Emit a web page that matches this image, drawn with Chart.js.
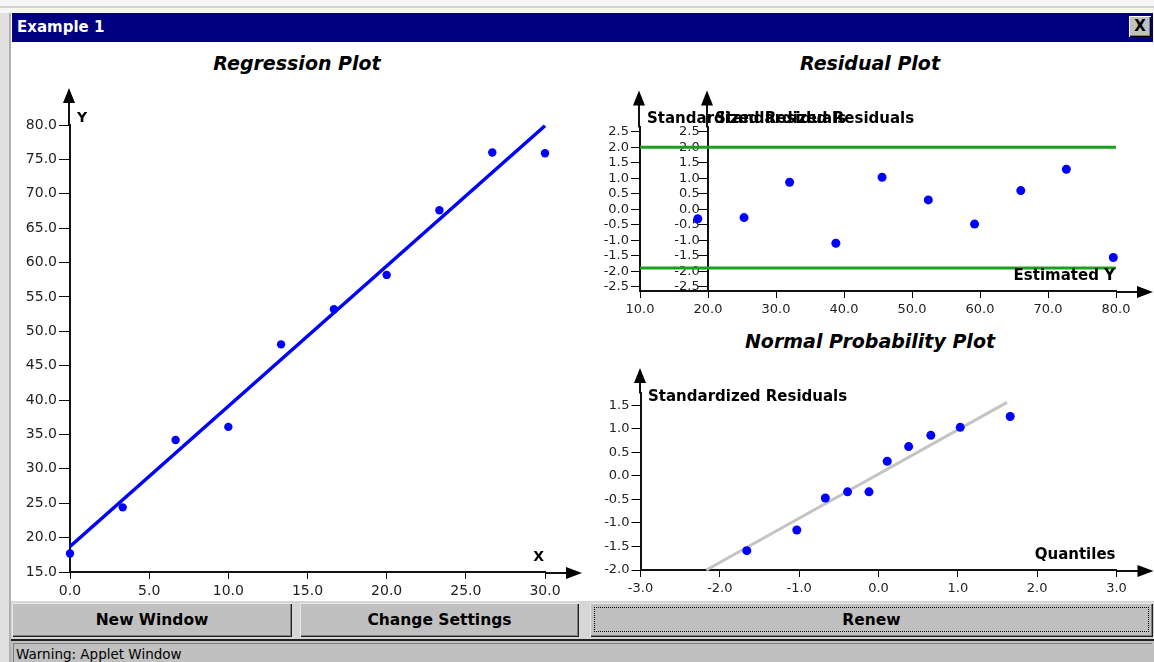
<!DOCTYPE html>
<html>
<head>
<meta charset="utf-8">
<title>Example 1</title>
<script src="https://cdn.jsdelivr.net/npm/chart.js@4/dist/chart.umd.min.js"></script>
<style>
  body { margin: 0; width: 1154px; height: 662px; overflow: hidden; position: relative; background: #fff; font-family: "DejaVu Sans", sans-serif; }
  .abs { position: absolute; }
  #frameTop { left: 0; top: 0; width: 1154px; height: 13px; background: #f6f6f6; }
  #frameTop::after { content: ""; position: absolute; left: 0; top: 6px; width: 1154px; height: 2px; background: #d4d4d4; }
  #leftEdge { left: 0; top: 13px; width: 9px; height: 649px; background: #e0e0e0; border-right: 2px solid #b0b0b0; }
  #titleBar { left: 12px; top: 13px; width: 1141px; height: 29px; background: #000080; color: #fff; font-weight: bold; font-size: 15px; line-height: 29px; }
  #titleBar span { position: absolute; left: 5px; top: 0; }
  #closeBtn { left: 1117px; top: 3px; width: 22px; height: 21px; background: #c0c0c0; color: #000; font-size: 15px; line-height: 20px; text-align: center;
    box-shadow: inset 1px 1px #fff, inset -1px -1px #000, inset -2px -2px #808080; }
  .plotTitle { width: 400px; height: 23px; line-height: 23px; text-align: center; font-size: 19px; font-weight: bold; font-style: italic; color: #000; }
  canvas { position: absolute; }
  #btnRow { left: 11px; top: 601px; width: 1143px; height: 38px; background: #d6d6d6; }
  .btn { top: 603px; height: 34px; background: #c0c0c0; font-weight: bold; font-size: 15.5px; line-height: 34px; text-align: center; color: #000;
    box-shadow: inset 1px 1px #e8e8e8, inset -1px -1px #202020, inset -2px -2px #808080; }
  #renewFocus { left: 4px; top: 4px; right: 4px; bottom: 5px; border: 1px dotted #000; }
  #status { left: 11px; top: 639px; width: 1143px; height: 23px; background: #c0c0c0; border-top: 2px solid #202020; }
  #statusField { left: 2px; top: 2px; width: 1138px; height: 21px; border-top: 1px solid #808080; border-left: 1px solid #808080; font-size: 13.5px; line-height: 20px; color: #000; }
  #statusField span { position: absolute; left: 2px; top: 0; }
</style>
</head>
<body>
<div id="frameTop" class="abs"></div>
<div id="leftEdge" class="abs"></div>
<div id="titleBar" class="abs"><span>Example 1</span><div id="closeBtn" class="abs"><b>X</b></div></div>

<div class="plotTitle abs" style="left:97px; top:52px;">Regression Plot</div>
<div class="plotTitle abs" style="left:670px; top:52px;">Residual Plot</div>
<div class="plotTitle abs" style="left:670px; top:330px;">Normal Probability Plot</div>

<canvas id="regression" width="576" height="556" style="left:9px; top:44px;"></canvas>
<canvas id="residual" width="564" height="280" style="left:590px; top:44px;"></canvas>
<canvas id="normal" width="564" height="278" style="left:590px; top:322px;"></canvas>

<div id="btnRow" class="abs"></div>
<div class="btn abs" style="left:12px; width:280px;">New Window</div>
<div class="btn abs" style="left:300px; width:279px;">Change Settings</div>
<div class="btn abs" style="left:590px; width:563px;">Renew<div id="renewFocus" class="abs"></div></div>
<div id="status" class="abs"><div id="statusField" class="abs"><span>Warning: Applet Window</span></div></div>

<script>
// regression data
const regX = [0, 3.33, 6.67, 10, 13.33, 16.67, 20, 23.33, 26.67, 30];
const regY = [17.7, 24.4, 34.2, 36.1, 48.1, 53.2, 58.2, 67.6, 76.0, 75.9];
const fitX = [0, 30];
const fitY = [18.7, 79.9];

// residuals against the fitted values
const estY = [18.5, 25.3, 32.0, 38.8, 45.6, 52.4, 59.2, 66.0, 72.7, 79.6];
const stdRes = [-0.31, -0.27, 0.87, -1.10, 1.03, 0.30, -0.48, 0.60, 1.29, -1.56];
const limitX = [10, 80];
const limitY = [2.0, -1.9];

// normal probability plot
const quantiles = [-1.66, -1.03, -0.67, -0.39, -0.12, 0.11, 0.38, 0.66, 1.03, 1.66];
const sortedRes = [-1.59, -1.15, -0.47, -0.34, -0.34, 0.31, 0.62, 0.86, 1.03, 1.26];
const refX = [-2.17, 1.62];
const refY = [-2.0, 1.56];

// tick labels
const regXTicks = [0, 5, 10, 15, 20, 25, 30];
const regYTicks = [15, 20, 25, 30, 35, 40, 45, 50, 55, 60, 65, 70, 75, 80];
const resXTicks = [10, 20, 30, 40, 50, 60, 70, 80];
const resYTicks = [-2.5, -2, -1.5, -1, -0.5, 0, 0.5, 1, 1.5, 2, 2.5];
const normXTicks = [-3, -2, -1, 0, 1, 2, 3];
const normYTicks = [-2, -1.5, -1, -0.5, 0, 0.5, 1, 1.5];

Chart.defaults.font.family = '"DejaVu Sans", sans-serif';

function pts(xs, ys) {
  return xs.map((x, i) => ({x: x, y: ys[i]}));
}

function axis(ticks, o) {
  return {
    type: 'linear',
    min: o.min,
    max: o.max,
    position: o.position,
    afterBuildTicks: s => { s.ticks = ticks.map(v => ({value: v})); },
    afterFit: s => {
      if (o.size == null) return;
      if (s.isHorizontal()) s.height = o.size; else s.width = o.size;
    },
    grid: {drawOnChartArea: false, drawTicks: true, tickLength: o.tick, color: '#000', lineWidth: 1},
    border: {display: true, color: '#111', width: 2},
    ticks: {
      autoSkip: false, maxRotation: 0, padding: o.pad, color: '#222',
      font: {size: o.font},
      // axes placed at a data value get no label gap from Chart.js, so pad the text
      callback: v => Number(v).toFixed(1) + (o.gap || '')
    }
  };
}

// axis arrows and axis names
const axisDecor = {
  id: 'axisDecor',
  afterDraw(chart, args, o) {
    const ctx = chart.ctx;
    const a = chart.chartArea;
    const xs = chart.scales.x;
    ctx.save();
    ctx.fillStyle = '#000';
    ctx.strokeStyle = '#111';
    ctx.lineWidth = 2;
    ctx.font = 'bold ' + o.nameSize + 'px "DejaVu Sans"';
    o.yAxisAt.forEach(v => {
      const px = Math.round(xs.getPixelForValue(v)) - 1;
      const tip = a.top - o.yArrow;
      ctx.beginPath();
      ctx.moveTo(px, a.top);
      ctx.lineTo(px, tip + 12);
      ctx.stroke();
      ctx.beginPath();
      ctx.moveTo(px, tip);
      ctx.lineTo(px - 6, tip + 15);
      ctx.lineTo(px + 6, tip + 15);
      ctx.closePath();
      ctx.fill();
      ctx.textAlign = 'left';
      ctx.textBaseline = 'middle';
      ctx.fillText(o.yName, px + o.nameDx, a.top + o.yNameDy);
    });
    const ay = Math.round(a.bottom) + 1;
    const tipX = a.right + 37;
    ctx.beginPath();
    ctx.moveTo(a.right, ay);
    ctx.lineTo(tipX - 12, ay);
    ctx.stroke();
    ctx.beginPath();
    ctx.moveTo(tipX, ay);
    ctx.lineTo(tipX - 16, ay - 6);
    ctx.lineTo(tipX - 16, ay + 6);
    ctx.closePath();
    ctx.fill();
    ctx.textAlign = 'right';
    ctx.textBaseline = 'middle';
    ctx.fillText(o.xName, a.right - 1, ay - 16);
    ctx.restore();
  }
};

const common = {
  responsive: false,
  animation: false,
  devicePixelRatio: 1,
  events: []
};

new Chart(document.getElementById('regression'), {
  type: 'scatter',
  data: {
    datasets: [
      {data: pts(regX, regY), backgroundColor: '#0000ff', borderWidth: 0, pointRadius: 4.2, clip: false},
      {data: pts(fitX, fitY), showLine: true, borderColor: '#0000ff', borderWidth: 3.5, pointRadius: 0, clip: false}
    ]
  },
  options: Object.assign({}, common, {
    layout: {padding: {left: 0, right: 40, top: 81, bottom: 0}},
    plugins: {
      legend: {display: false},
      tooltip: {enabled: false},
      axisDecor: {yAxisAt: [0], yArrow: 37, yName: 'Y', xName: 'X', nameSize: 14, nameDx: 8, yNameDy: -7}
    },
    scales: {
      x: axis(regXTicks, {min: 0, max: 30, size: 28, tick: 7, pad: 4, font: 14}),
      y: axis(regYTicks, {min: 15, max: 80, size: 61, tick: 11, pad: 2, font: 14})
    }
  }),
  plugins: [axisDecor]
});

new Chart(document.getElementById('residual'), {
  type: 'scatter',
  data: {
    datasets: [
      {data: pts(estY, stdRes), backgroundColor: '#0000ff', borderWidth: 0, pointRadius: 4.5, clip: false},
      {data: pts(limitX, [limitY[0], limitY[0]]), showLine: true, borderColor: '#1e9e1e', borderWidth: 3, pointRadius: 0, clip: false},
      {data: pts(limitX, [limitY[1], limitY[1]]), showLine: true, borderColor: '#1e9e1e', borderWidth: 3, pointRadius: 0, clip: false}
    ]
  },
  options: Object.assign({}, common, {
    layout: {padding: {left: 0, right: 38, top: 83.4, bottom: 0}},
    plugins: {
      legend: {display: false},
      tooltip: {enabled: false},
      axisDecor: {yAxisAt: [10, 20], yArrow: 37, yName: 'Standardized Residuals', xName: 'Estimated Y', nameSize: 15, nameDx: 8, yNameDy: -8.4}
    },
    scales: {
      x: axis(resXTicks, {min: 10, max: 80, size: 33, tick: 7, pad: 4, font: 13}),
      y: axis(resYTicks, {min: -2.64, max: 2.64, size: 50, tick: 9, pad: 2, font: 13}),
      y2: Object.assign(axis(resYTicks, {min: -2.64, max: 2.64, position: {x: 20}, tick: 9, pad: 2, font: 13, gap: '  '}), {axis: 'y'})
    }
  }),
  plugins: [axisDecor]
});

new Chart(document.getElementById('normal'), {
  type: 'scatter',
  data: {
    datasets: [
      {data: pts(quantiles, sortedRes), backgroundColor: '#0000ff', borderWidth: 0, pointRadius: 4.5, clip: false},
      {data: pts(refX, refY), showLine: true, borderColor: '#c4c4c4', borderWidth: 3, pointRadius: 0, clip: false}
    ]
  },
  options: Object.assign({}, common, {
    layout: {padding: {left: 0, right: 37.5, top: 71.4, bottom: 0}},
    plugins: {
      legend: {display: false},
      tooltip: {enabled: false},
      axisDecor: {yAxisAt: [-3], yArrow: 25.4, yName: 'Standardized Residuals', xName: 'Quantiles', nameSize: 15, nameDx: 8, yNameDy: 3.6}
    },
    scales: {
      x: axis(normXTicks, {min: -3, max: 3, size: 30, tick: 7, pad: 4, font: 13}),
      y: axis(normYTicks, {min: -2, max: 1.75, size: 50.5, tick: 9, pad: 2, font: 13})
    }
  }),
  plugins: [axisDecor]
});
</script>
</body>
</html>
